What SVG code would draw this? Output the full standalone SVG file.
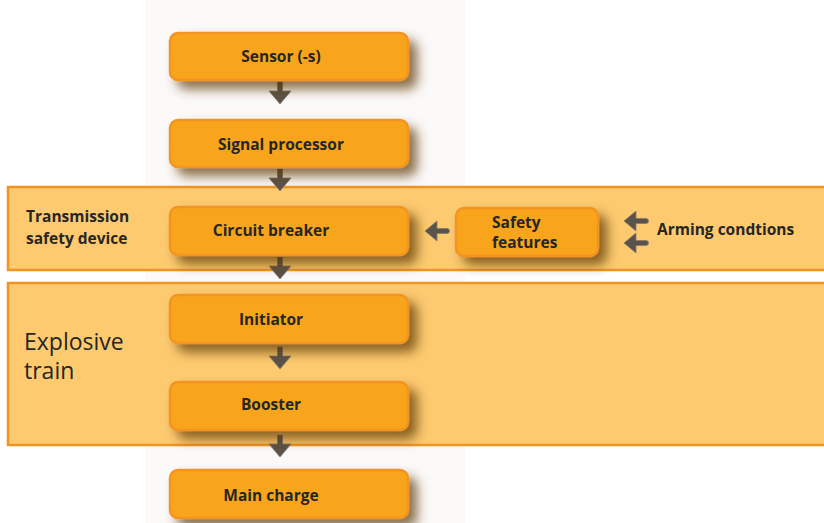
<svg xmlns="http://www.w3.org/2000/svg" width="824" height="523" viewBox="0 0 824 523">
<defs>
<filter id="sh" x="-20%" y="-40%" width="150%" height="200%">
<feDropShadow dx="8" dy="8" stdDeviation="6" flood-color="#5a3300" flood-opacity="0.7"/>
</filter>
<path id="down" d="M-2.5,-21 H2.5 V-12 H11 L0,1 L-11,-12 H-2.5 Z"/>
<path id="left" d="M0,0 L12,-10 V-2.5 H22 A2.5,2.5 0 0 1 22,2.5 H12 V10 Z"/>
</defs>
<style>
.band{fill:#fdca6f;stroke:#f39322;stroke-width:2.5}
.box{fill:#f8a51f;stroke:#f39322;stroke-width:2.5}
.t{font-family:"Open Sans","Liberation Sans",sans-serif;font-weight:bold;font-size:15.5px;fill:#262626}
.c{text-anchor:middle}
.big{font-family:"Open Sans","Liberation Sans",sans-serif;font-size:23px;fill:#262626}
.arr{fill:#5b5349;stroke:#847a70;stroke-width:0.8}
</style>
<rect x="0" y="0" width="824" height="523" fill="#ffffff"/>
<rect x="145" y="0" width="320" height="523" fill="#fcfaf8"/>
<g id="band-transmission">
<rect class="band" x="8" y="187" width="830" height="83"/>
<text class="t" x="26" y="222">Transmission</text>
<text class="t" x="26" y="244">safety device</text>
</g>
<g id="band-explosive">
<rect class="band" x="8" y="283" width="830" height="162"/>
<text class="big" x="24" y="350">Explosive</text>
<text class="big" x="24" y="379">train</text>
</g>
<g id="connectors">
<use href="#down" class="arr" x="280" y="103"/>
<use href="#down" class="arr" x="280" y="190"/>
<use href="#down" class="arr" x="280" y="278"/>
<use href="#down" class="arr" x="280" y="368"/>
<use href="#down" class="arr" x="280" y="456"/>
<use href="#left" class="arr" x="425" y="231"/>
<use href="#left" class="arr" x="624" y="221"/>
<use href="#left" class="arr" x="624" y="243"/>
</g>
<g id="sensor"><rect class="box" filter="url(#sh)" x="170" y="33" width="238" height="47" rx="8"/><text class="t c" x="281" y="62">Sensor (-s)</text></g>
<g id="signal-processor"><rect class="box" filter="url(#sh)" x="170" y="120" width="238" height="47" rx="8"/><text class="t c" x="281" y="150">Signal processor</text></g>
<g id="circuit-breaker"><rect class="box" filter="url(#sh)" x="170" y="207" width="238" height="48" rx="8"/><text class="t c" x="271" y="236">Circuit breaker</text></g>
<g id="safety-features"><rect class="box" filter="url(#sh)" x="456" y="208" width="142" height="48" rx="8"/><text class="t" x="492" y="228">Safety</text><text class="t" x="492" y="248">features</text></g>
<g id="arming-conditions"><text class="t" x="657" y="235">Arming condtions</text></g>
<g id="initiator"><rect class="box" filter="url(#sh)" x="170" y="295" width="238" height="48" rx="8"/><text class="t c" x="271" y="325">Initiator</text></g>
<g id="booster"><rect class="box" filter="url(#sh)" x="170" y="382" width="238" height="48" rx="8"/><text class="t c" x="271" y="410">Booster</text></g>
<g id="main-charge"><rect class="box" filter="url(#sh)" x="170" y="470" width="238" height="48" rx="8"/><text class="t c" x="271" y="501">Main charge</text></g>
</svg>
